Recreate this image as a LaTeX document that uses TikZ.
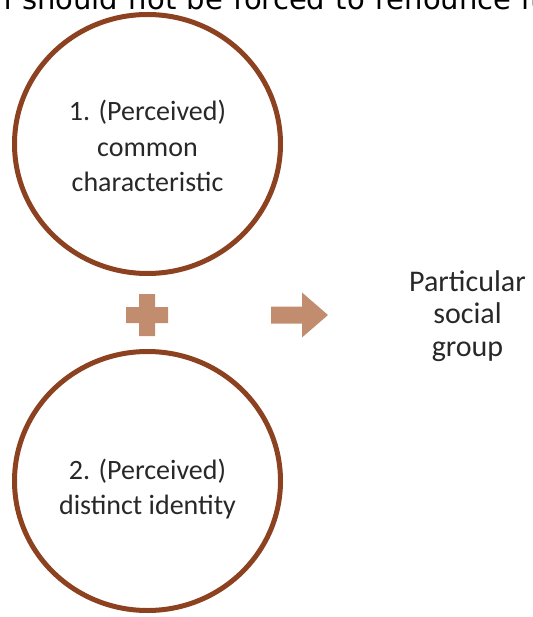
\documentclass[tikz,border=0pt]{standalone}
\usepackage{fontspec}
\setmainfont{Carlito}
\newfontfamily\captionfont[WordSpace=1.15]{DejaVu Sans}
\usetikzlibrary{positioning,shapes,calc}

\definecolor{rimbrown}{RGB}{140,66,32}
\definecolor{signtan}{RGB}{193,141,110}
\definecolor{textgray}{RGB}{40,40,40}

\begin{document}
\begin{tikzpicture}[
  x=1pt,y=-1pt,
  every node/.style={align=center,text=textgray},
  ring/.style={draw=rimbrown,line width=5pt,ellipse,minimum width=266pt,minimum height=259pt,inner sep=0pt},
  ringtext/.style={font=\fontsize{28}{35.5}\selectfont},
  sign/.style={fill=signtan,draw=none},
  result/.style={font=\fontsize{30}{32.5}\selectfont}]

  \useasboundingbox (0,0) rectangle (532,617);
  \clip (0,0) rectangle (532,617);

  % cut-off line of the slide above
  \node[anchor=base west,inner sep=0pt,text=black,font=\captionfont\fontsize{29}{33}\selectfont]
    (caption) at (-7,9.5) {n should not be forced to renounce it};

  % the two criteria
  \node[ring] (common) at (147.5,144) {};
  \node[ringtext] (commontext) at ($(common.center)+(0,2)$) {1. (Perceived)\\ common\\ characteristic};
  \node[ring] (identity) at (147.5,481) {};
  \node[ringtext] (identitytext) at ($(identity.center)+(0,8)$) {2. (Perceived)\\ distinct identity};

  % plus and arrow
  \coordinate (plus) at (147,315);
  \fill[sign] ($(plus)+(-21,-8)$) -- ++(13,0) -- ++(0,-13) -- ++(16,0) -- ++(0,13) -- ++(13,0)
     -- ++(0,16) -- ++(-13,0) -- ++(0,13) -- ++(-16,0) -- ++(0,-13) -- ++(-13,0) -- cycle;

  \coordinate (tail) at (271,315);
  \fill[sign] ($(tail)+(0,-8.5)$) -- ++(31,0) -- ++(0,-14) -- ++(26,22.5) -- ++(-26,22.5)
     -- ++(0,-14) -- ++(-31,0) -- cycle;

  % outcome
  \node[result] (group) at (467.5,316) {Particular\\ social\\ group};

\end{tikzpicture}
\end{document}
